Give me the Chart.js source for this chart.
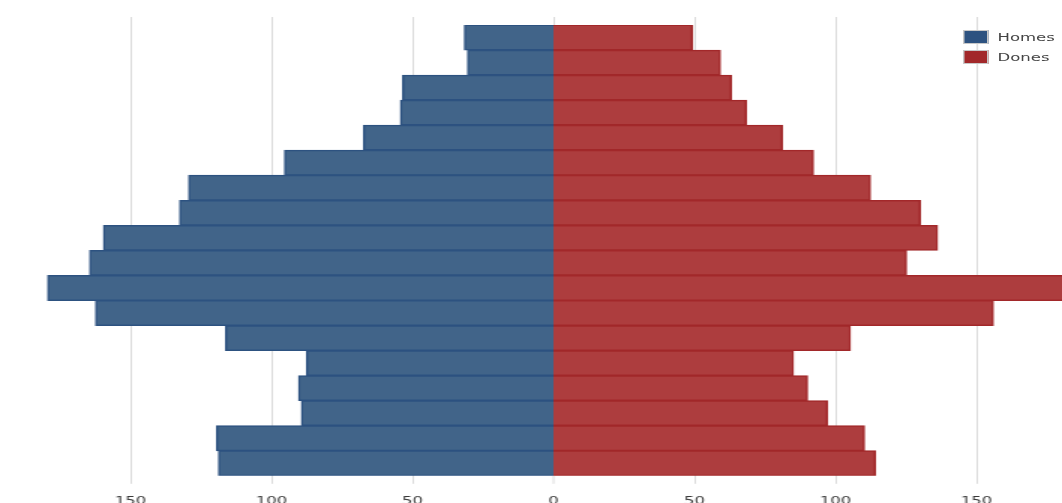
<!DOCTYPE html>
<html>
<head>
<meta charset="utf-8">
<script src="https://cdn.jsdelivr.net/npm/chart.js@4"></script>
<style>
  html, body { margin: 0; padding: 0; background: #fff; overflow: hidden; }
  #wrap { position: relative; width: 1062px; height: 503px; overflow: hidden; }
  /* the reference is stretched sideways, so the whole drawing is too */
  #stage { position: absolute; left: 0; top: 0; width: 708px; height: 503px; transform: scaleX(1.5); transform-origin: 0 0; }
  #pyrCanvas { position: absolute; left: -40px; top: 0; }
  #legend { position: absolute; left: 642px; top: 27px; font-family: "DejaVu Sans", sans-serif; font-size: 11px; color: #444; }
  .item { display: flex; align-items: center; height: 20px; }
  .box { width: 15px; height: 12px; border: 1px solid #c8c8c8; margin-right: 6px; box-sizing: content-box; }
</style>
</head>
<body>
<div id="wrap">
  <div id="stage">
    <canvas id="pyrCanvas" width="825" height="519"></canvas>
    <div id="legend"></div>
  </div>
</div>
<script>
const ages = ["85+", "80-84", "75-79", "70-74", "65-69", "60-64", "55-59", "50-54", "45-49",
              "40-44", "35-39", "30-34", "25-29", "20-24", "15-19", "10-14", "5-9", "0-4"];
const homes = [31.6, 30.5, 53.5, 54.3, 67.4, 95.4, 129.4, 132.6, 159.6,
               164.5, 179.4, 162.4, 116.3, 87.6, 90.4, 89.4, 119.5, 118.8];
const dones = [49.3, 59.2, 63.1, 68.4, 81.2, 92.2, 112.4, 130.1, 136.2,
               125.2, 185, 156, 105.3, 85.1, 90.1, 97.2, 110.3, 114.2];

const pyrCanvas = document.getElementById('pyrCanvas');

// no grid line under the bars at zero, so blue and red meet
const gridWidth = ctx => (ctx.tick && ctx.tick.value === 0 ? 0 : 1);

const pyrChart = new Chart(pyrCanvas, {
    type: "bar",
    data: {
        labels: ages,
        datasets: [{
            label: "Homes",
            data: homes.map(v => -v),
            backgroundColor: "#416489",
            borderColor: "#2d5280",
            borderWidth: 1.5,
            inflateAmount: 0.4,
        }, {
            label: "Dones",
            data: dones,
            backgroundColor: "#ad3d3e",
            borderColor: "#a2282a",
            borderWidth: 1.5,
            inflateAmount: 0.4,
        }]
    },
    options: {
        indexAxis: "y",
        responsive: false,
        animation: false,
        barPercentage: 1,
        categoryPercentage: 1,
        layout: { padding: { left: 33, right: 40, top: 17, bottom: 0 } },
        plugins: { legend: { display: false }, tooltip: { enabled: false } },
        scales: {
            y: { stacked: true, display: false },
            x: {
                stacked: true, min: -200, max: 200,
                border: { display: false },
                grid: { color: "#dcdcdc", lineWidth: gridWidth, tickWidth: 1, tickLength: 8 },
                ticks: {
                    stepSize: 50, padding: 11, color: "#3a3a3a",
                    font: { family: "DejaVu Sans", size: 11 },
                    callback: v => Math.abs(v) > 150 ? "" : Math.abs(v)
                }
            },
            x2: {
                position: "top", min: -200, max: 200,
                border: { display: false },
                grid: { color: "#dcdcdc", tickLength: 8, drawOnChartArea: false },
                ticks: { stepSize: 50, display: false }
            }
        }
    }
});

const legend = document.getElementById('legend');
pyrChart.data.datasets.forEach(ds => {
    const item = document.createElement('div');
    item.className = 'item';
    const box = document.createElement('span');
    box.className = 'box';
    box.style.background = ds.borderColor;
    const txt = document.createElement('span');
    txt.textContent = ds.label;
    item.appendChild(box);
    item.appendChild(txt);
    legend.appendChild(item);
});
</script>
</body>
</html>
